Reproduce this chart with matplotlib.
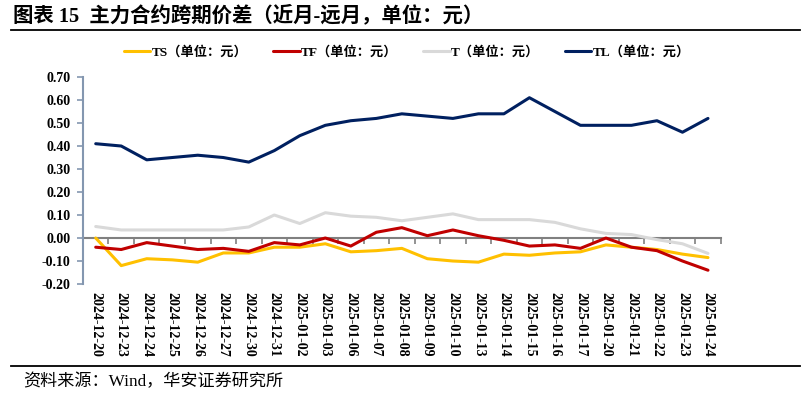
import matplotlib
matplotlib.use('Agg')
import matplotlib.pyplot as plt

# data
dates = ['2024-12-20', '2024-12-23', '2024-12-24', '2024-12-25', '2024-12-26',
         '2024-12-27', '2024-12-30', '2024-12-31', '2025-01-02', '2025-01-03',
         '2025-01-06', '2025-01-07', '2025-01-08', '2025-01-09', '2025-01-10',
         '2025-01-13', '2025-01-14', '2025-01-15', '2025-01-16', '2025-01-17',
         '2025-01-20', '2025-01-21', '2025-01-22', '2025-01-23', '2025-01-24']

ts = [0.00, -0.12, -0.09, -0.095, -0.105, -0.065, -0.065, -0.04, -0.04, -0.025,
      -0.06, -0.055, -0.045, -0.09, -0.10, -0.105, -0.07, -0.075, -0.065, -0.06,
      -0.03, -0.04, -0.05, -0.07, -0.085]
tf = [-0.04, -0.05, -0.02, -0.035, -0.05, -0.045, -0.058, -0.02, -0.03, 0.00,
      -0.035, 0.025, 0.045, 0.01, 0.035, 0.01, -0.01, -0.035, -0.03, -0.045,
      0.00, -0.04, -0.055, -0.10, -0.14]
t = [0.05, 0.035, 0.035, 0.035, 0.035, 0.035, 0.048, 0.10, 0.063, 0.11,
     0.095, 0.09, 0.075, 0.09, 0.105, 0.08, 0.08, 0.08, 0.068, 0.04,
     0.02, 0.015, -0.007, -0.025, -0.067]
tl = [0.41, 0.40, 0.34, 0.35, 0.36, 0.35, 0.33, 0.38, 0.445, 0.49,
      0.51, 0.52, 0.54, 0.53, 0.52, 0.54, 0.54, 0.61, 0.55, 0.49,
      0.49, 0.49, 0.51, 0.46, 0.52]

series_names = ['TS（单位：元）', 'TF（单位：元）', 'T（单位：元）', 'TL（单位：元）']
series_colors = ['#FFC000', '#C00000', '#D9D9D9', '#002060']
yticks = [-0.20, -0.10, 0.00, 0.10, 0.20, 0.30, 0.40, 0.50, 0.60, 0.70]

MIX = ['Liberation Serif', 'Noto Sans CJK SC']
SPINE = '#8497B0'

fig = plt.figure(figsize=(8.11, 3.97), dpi=100)
ax = fig.add_axes([0.1023, 0.2846, 0.7864, 0.5214])

x = list(range(len(dates)))
for vals, name, col in zip([ts, tf, t, tl], series_names, series_colors):
    ax.plot(x, vals, color=col, lw=2.2, label=name, solid_capstyle='round')

ax.set_xlim(-0.5, len(dates) - 0.5)
ax.set_ylim(-0.2, 0.7)
ax.set_yticks(yticks)
ax.set_yticklabels(['%.2f' % v for v in yticks], family='Liberation Serif',
                   fontweight='bold', fontsize=10)
ax.set_xticks(x)
ax.set_xticklabels(dates, rotation=270, family='Liberation Serif',
                   fontweight='bold', fontsize=10, va='top', ha='center')
ax.tick_params(axis='x', length=0, pad=6)
ax.tick_params(axis='y', length=4, color=SPINE, width=1.2, pad=5)

for s in ['top', 'right', 'bottom']:
    ax.spines[s].set_visible(False)
ax.spines['left'].set_color(SPINE)
ax.spines['left'].set_linewidth(1.5)

# zero line with category boundary ticks
zero = ax.secondary_xaxis(0.2 / 0.9)
zero.set_xticks([i - 0.5 for i in range(len(dates) + 1)])
zero.set_xticklabels([])
zero.tick_params(length=4, color='#808080', width=1.2, direction='out')
zero.spines['bottom'].set_color('#808080')
zero.spines['bottom'].set_linewidth(1.5)
ax.set_zorder(zero.get_zorder() + 1)
ax.patch.set_visible(False)

leg = ax.legend(loc='center', bbox_to_anchor=(407 / 811, 1 - 52 / 397),
                bbox_transform=fig.transFigure, ncol=4, frameon=False,
                handlelength=2.0, handletextpad=0.1, columnspacing=1.95,
                prop={'family': MIX, 'weight': 'bold', 'size': 9.5})

# header and footer rules, each drawn as the top spine of a thin empty axes
fig.text(13 / 811, 1 - 16 / 397, '图表 15  主力合约跨期价差（近月-远月，单位：元）',
         family=MIX, fontweight='bold', fontsize=14.7, va='center', ha='left')
for yy in [30, 366]:
    rule = fig.add_axes([11 / 811, 1 - yy / 397 - 0.004, 789 / 811, 0.004])
    rule.set_xticks([])
    rule.set_yticks([])
    rule.patch.set_visible(False)
    for s in ['left', 'right', 'bottom']:
        rule.spines[s].set_visible(False)
    rule.spines['top'].set_linewidth(1.3)
    rule.spines['top'].set_color('black')
fig.text(23 / 811, 1 - 382 / 397, '资料来源：Wind，华安证券研究所',
         family=MIX, fontsize=12.3, va='center', ha='left')

fig.savefig('out.png', dpi=100)
